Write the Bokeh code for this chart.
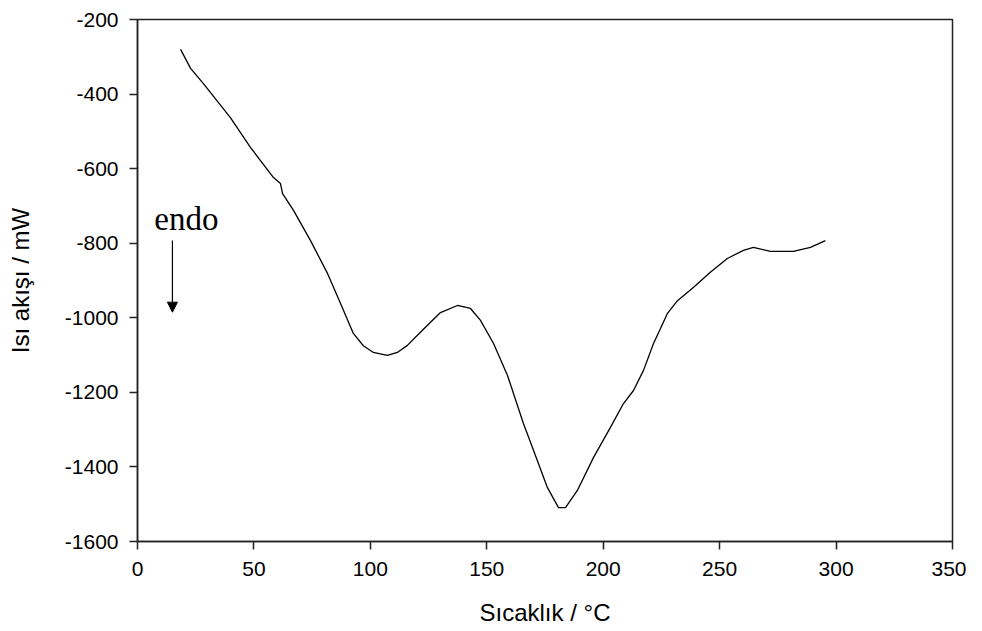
from bokeh.plotting import figure
from bokeh.embed import file_html
from bokeh.resources import INLINE
from bokeh.models import Range1d, Arrow, NormalHead
from bokeh.core.properties import value

# Data
temperature = [18.5, 22.8, 28.3, 39.9, 48.5, 58.4, 61.4, 62.3, 67.0, 74.3,
               81.6, 87.2, 92.7, 97.0, 101.3, 107.3, 111.6, 115.9, 121.5, 130.1,
               137.4, 143.0, 147.3, 152.9, 158.9, 165.7, 171.7, 176.0, 180.8, 183.8,
               188.9, 195.8, 203.1, 208.7, 213.0, 217.3, 221.6, 224.6, 227.6, 231.9,
               238.7, 246.0, 253.3, 260.2, 264.5, 271.8, 281.7, 289.0, 295.4]
heat_flow = [-280, -331, -372, -463, -543, -624, -640, -667, -712, -793,
             -881, -962, -1042, -1075, -1093, -1101, -1093, -1074, -1039, -986,
             -967, -975, -1007, -1069, -1155, -1283, -1383, -1455, -1509, -1509,
             -1463, -1375, -1294, -1230, -1195, -1141, -1069, -1029, -988, -954,
             -919, -878, -841, -819, -811, -822, -822, -811, -793]

x_ticks = [0, 50, 100, 150, 200, 250, 300, 350]
y_ticks = [-1600, -1400, -1200, -1000, -800, -600, -400, -200]
y_tick_labels = ["-1600", "-1400", "-1200", "-1000", "-800", "-600", "-400", "-200"]

annot_text = "endo"
annot_text_x = 21
annot_text_y = -736
arrow_x = 15
arrow_y_start = -793
arrow_y_end = -985

p = figure(width=966, height=628, output_backend="svg", toolbar_location=None,
           x_range=Range1d(0, 350), y_range=Range1d(-1600, -200),
           min_border_left=137, min_border_top=19, min_border_right=14,
           min_border_bottom=10)

p.line(temperature, heat_flow, line_color="black", line_width=1.3)

p.text(x=[annot_text_x], y=[annot_text_y], text=[annot_text],
       text_font=value("Liberation Serif"), text_font_size="33px",
       text_align="center", text_baseline="alphabetic", text_color="black")

p.add_layout(Arrow(end=NormalHead(size=10, fill_color="black", line_color="black"),
                   x_start=arrow_x, y_start=arrow_y_start,
                   x_end=arrow_x, y_end=arrow_y_end,
                   line_color="black", line_width=1.2))

p.grid.visible = False
p.outline_line_color = "#222222"
p.outline_line_width = 1.5
p.outline_line_alpha = 1.0
p.background_fill_color = "white"
p.border_fill_color = "white"

p.xaxis.ticker = x_ticks
p.yaxis.ticker = y_ticks
p.yaxis.major_label_overrides = {t: s for t, s in zip(y_ticks, y_tick_labels)}

for ax in (p.xaxis[0], p.yaxis[0]):
    ax.axis_line_color = "#222222"
    ax.axis_line_width = 1.5
    ax.major_tick_line_color = "#222222"
    ax.major_tick_line_width = 1.5
    ax.major_tick_out = 8
    ax.major_tick_in = 0
    ax.minor_tick_line_color = None
    ax.major_label_text_font = "Liberation Sans"
    ax.major_label_text_font_size = "21px"
    ax.major_label_text_color = "black"
    ax.axis_label_text_font = "Liberation Sans"
    ax.axis_label_text_font_size = "24px"
    ax.axis_label_text_font_style = "normal"
    ax.axis_label_text_color = "black"

p.xaxis.axis_label = "Sıcaklık / °C"
p.yaxis.axis_label = "Isı akışı / mW"
p.xaxis.major_label_standoff = 12
p.yaxis.major_label_standoff = 11
p.xaxis.axis_label_standoff = 20
p.yaxis.axis_label_standoff = 28

open("out.html", "w").write(file_html(p, INLINE))
